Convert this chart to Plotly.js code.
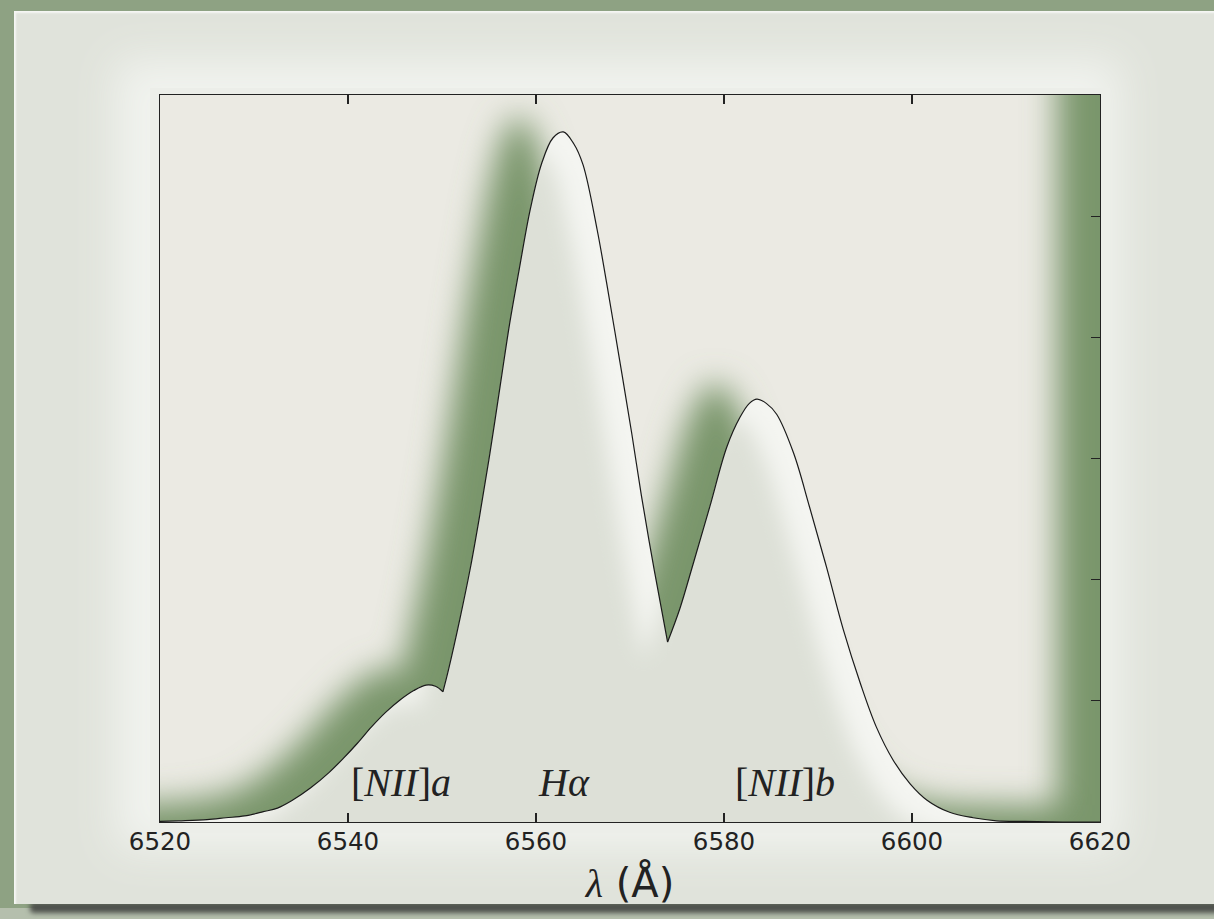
<!DOCTYPE html>
<html>
<head>
<meta charset="utf-8">
<script src="https://cdn.plot.ly/plotly-3.0.1.min.js"></script>
<style>
  html, body { margin:0; padding:0; }
  body { width:1214px; height:919px; overflow:hidden; position:relative; background:#8ea283; }
  #under { position:absolute; left:0; top:908px; width:1214px; height:11px; background:#b5bfad; }
  #bshadow { position:absolute; left:30px; top:902px; width:1200px; height:11px; background:#4f524d; filter:blur(2.5px); border-radius:4px; }
  #paper { position:absolute; left:14px; top:11px; width:1215px; height:893px; background:#e0e3db;
           box-shadow: inset 2px 2px 2px rgba(255,255,255,0.7); }
  #glow { position:absolute; left:150px; top:88px; width:960px; height:745px; background:#eceee9;
          box-shadow: -12px -6px 40px 22px rgba(241,243,239,1); }
  #chart { position:absolute; left:0; top:0; width:1214px; height:919px; }
</style>
</head>
<body>
<div id="under"></div>
<div id="bshadow"></div>
<div id="paper"></div>
<div id="glow"></div>
<div id="chart"></div>
<script>
// ---- data (wavelength in Angstrom, flux in arbitrary units) ----
const nIIaLam  = [6520, 6522, 6525, 6527, 6529, 6531, 6532.5, 6534, 6536, 6538, 6539.5, 6541, 6542.5, 6544, 6545.5, 6547, 6548.3, 6549.3, 6550.1];
const nIIaFlux = [0.001, 0.002, 0.004, 0.007, 0.010, 0.017, 0.023, 0.035, 0.056, 0.082, 0.105, 0.130, 0.157, 0.181, 0.201, 0.217, 0.226, 0.224, 0.215];

const haLam  = [6550.1, 6550.7, 6551.9, 6553, 6554, 6555.1, 6556.2, 6557.2, 6558.2, 6559.4, 6560.6, 6561.8, 6562.9, 6564, 6565, 6566.5, 6567.5, 6568.9, 6570.2, 6571.2, 6572.6, 6574.0];
const haFlux = [0.215, 0.252, 0.335, 0.418, 0.505, 0.609, 0.721, 0.823, 0.911, 1.012, 1.087, 1.129, 1.139, 1.120, 1.085, 0.978, 0.891, 0.762, 0.640, 0.540, 0.414, 0.297];

const nIIbLam  = [6574.0, 6575.3, 6576.7, 6578.5, 6580.3, 6581.7, 6582.7, 6583.5, 6584.5, 6585.6, 6587.4, 6589.1, 6590.9, 6592.7, 6594.5, 6596.2, 6598.0, 6599.8, 6601.6, 6604.0, 6606.5, 6609, 6612, 6616, 6620];
const nIIbFlux = [0.297, 0.352, 0.425, 0.521, 0.619, 0.668, 0.691, 0.698, 0.691, 0.673, 0.609, 0.520, 0.421, 0.317, 0.229, 0.157, 0.102, 0.063, 0.036, 0.016, 0.007, 0.002, 0.001, 0, 0];

const lineLabels = ['[<i>NII</i>]<i>a</i>', '<i>H</i><i>α</i>', '[<i>NII</i>]<i>b</i>'];
const labelLam   = [6545.6, 6563.0, 6586.5];
const labelFlux  = [0.066, 0.066, 0.066];

const xTicks = [6520, 6540, 6560, 6580, 6600, 6620];
const yTicks = [0.2, 0.4, 0.6, 0.8, 1.0];

// ---- build ----
const segments = [[nIIaLam, nIIaFlux], [haLam, haFlux], [nIIbLam, nIIbFlux]];
const allLam = [], allFlux = [];
segments.forEach(([l, f], k) => {
  l.forEach((v, i) => { if (k > 0 && i === 0) return; allLam.push(v); allFlux.push(f[i]); });
});

// offset copy of the filled profile (used for the soft shadow / shading layers)
function offsetOutline(dx, dy) {
  const xs = [6480, 6480], ys = [-1, dy];
  allLam.forEach((v, i) => { xs.push(v - dx); ys.push(allFlux[i] + dy); });
  xs.push(6620 - dx, 6620 - dx, 6700, 6700); ys.push(dy, 2, 2, -1);
  return {x: xs, y: ys};
}

const traces = [];
const sh = offsetOutline(4.6, 0.028);
traces.push({x: sh.x, y: sh.y, mode: 'lines', fill: 'toself', fillcolor: '#7a966c',
             line: {width: 0, shape: 'linear', color: 'rgba(0,0,0,0)'}, hoverinfo: 'skip', showlegend: false});
segments.forEach(([l, f]) => traces.push({x: l, y: f, mode: 'lines', fill: 'tozeroy', fillcolor: '#f4f5f1',
             line: {width: 0, shape: 'spline', smoothing: 1, color: 'rgba(0,0,0,0)'}, hoverinfo: 'skip', showlegend: false}));
const gs = offsetOutline(2.6, -0.03);
traces.push({x: gs.x, y: gs.y, mode: 'lines', fill: 'toself', fillcolor: '#dde0d7',
             line: {width: 0, shape: 'linear', color: 'rgba(0,0,0,0)'}, hoverinfo: 'skip', showlegend: false});
segments.forEach(([l, f]) => traces.push({x: l, y: f, mode: 'lines',
             line: {width: 1.2, shape: 'spline', smoothing: 1, color: '#1a1a1a'}, hoverinfo: 'skip', showlegend: false}));

const annotations = lineLabels.map((t, i) => ({
  x: labelLam[i], y: labelFlux[i], xref: 'x', yref: 'y', text: t, showarrow: false,
  font: {family: 'Liberation Serif, serif', size: 40, color: '#222'}, xanchor: 'center', yanchor: 'middle'
}));

const layout = {
  width: 1214, height: 919,
  margin: {l: 160, r: 114, t: 95, b: 97, pad: 0},
  paper_bgcolor: 'rgba(0,0,0,0)',
  plot_bgcolor: '#ebeae3',
  showlegend: false,
  xaxis: {
    range: [6520, 6620], tickvals: xTicks, ticktext: xTicks.map(String),
    ticks: 'inside', ticklen: 9, tickwidth: 1.3, tickcolor: '#222',
    showline: true, linecolor: '#222', linewidth: 1.3, mirror: 'ticks',
    showgrid: false, zeroline: false, ticklabelstandoff: -3,
    tickfont: {family: 'DejaVu Sans, sans-serif', size: 24.5, color: '#222'},
    title: {text: '<span style="font-family:Liberation Serif;font-style:italic">λ</span> (Å)',
            font: {family: 'DejaVu Sans, sans-serif', size: 40, color: '#222'}, standoff: 14}
  },
  yaxis: {
    range: [0, 1.2], tickvals: yTicks, showticklabels: false, side: 'right',
    ticks: 'inside', ticklen: 9, tickwidth: 1.3, tickcolor: '#222',
    showline: true, linecolor: '#222', linewidth: 1.3, mirror: true,
    showgrid: false, zeroline: false
  },
  annotations: annotations
};

const gd = document.getElementById('chart');
Plotly.newPlot(gd, traces, layout, {staticPlot: true}).then(() => {
  const NS = 'http://www.w3.org/2000/svg';
  const svg = gd.querySelector('svg.main-svg');
  let defs = svg.querySelector('defs');
  function mkBlur(id, sd) {
    const f = document.createElementNS(NS, 'filter');
    f.setAttribute('id', id);
    f.setAttribute('filterUnits', 'userSpaceOnUse');
    f.setAttribute('x', '-600'); f.setAttribute('y', '-600');
    f.setAttribute('width', '3000'); f.setAttribute('height', '3000');
    const b = document.createElementNS(NS, 'feGaussianBlur');
    b.setAttribute('stdDeviation', sd);
    f.appendChild(b);
    defs.appendChild(f);
  }
  mkBlur('shBlur', 16);
  mkBlur('gsBlur', 11);
  const tr = gd.querySelectorAll('.scatterlayer .trace');
  const shPath = tr[0].querySelector('.js-fill');
  if (shPath) shPath.setAttribute('filter', 'url(#shBlur)');
  const cp = document.createElementNS(NS, 'clipPath');
  cp.setAttribute('id', 'profileClip');
  for (let i = 1; i <= 3; i++) {
    const fp = tr[i].querySelector('.js-fill');
    if (fp) {
      const p = document.createElementNS(NS, 'path');
      p.setAttribute('d', fp.getAttribute('d'));
      cp.appendChild(p);
    }
  }
  defs.appendChild(cp);
  const gsPath = tr[4].querySelector('.js-fill');
  if (gsPath) {
    const g = document.createElementNS(NS, 'g');
    g.setAttribute('clip-path', 'url(#profileClip)');
    gsPath.parentNode.insertBefore(g, gsPath);
    g.appendChild(gsPath);
    gsPath.setAttribute('filter', 'url(#gsBlur)');
  }
});
</script>
</body>
</html>
